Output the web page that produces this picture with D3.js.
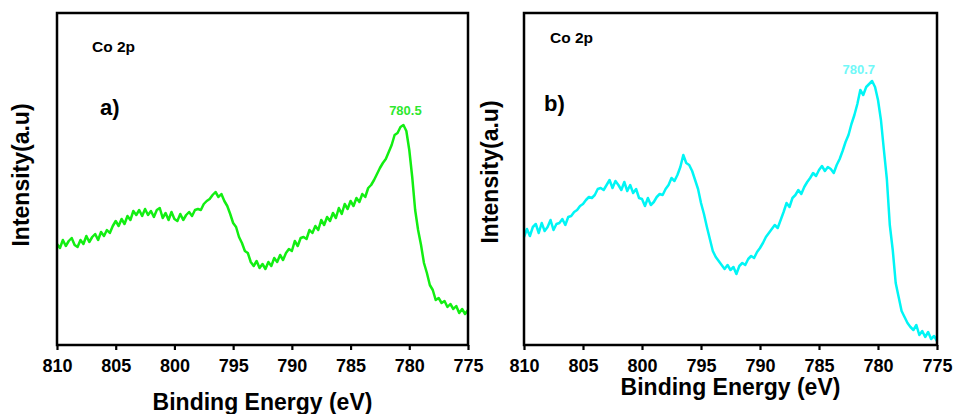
<!DOCTYPE html>
<html>
<head>
<meta charset="utf-8">
<script src="https://cdn.jsdelivr.net/npm/d3@7"></script>
<style>
  body { margin: 0; background: #fff; }
  svg { display: block; font-family: Arial, "Liberation Sans", sans-serif; font-weight: bold; }
</style>
</head>
<body>
<svg width="955" height="414"></svg>
<script>
// sampling grid of the spectra (eV), 810 -> 775
const energyStart = 810;
const energyStep = 0.25;
const tickValues = [810, 805, 800, 795, 790, 785, 780, 775];

// Co 2p intensities (a.u.), one value per grid step
const intensityA = [
  101, 97, 105, 99, 104, 107, 100, 98, 105, 101, 109, 103,
  108, 111, 105, 113, 109, 115, 112, 119, 124, 119, 126, 121,
  129, 125, 134, 130, 135, 129, 136, 130, 134, 128, 135, 137,
  127, 132, 125, 133, 126, 124, 131, 125, 130, 133, 129, 135,
  136, 135, 141, 144, 146, 150, 153, 148, 151, 144, 139, 131,
  122, 118, 108, 102, 94, 92, 83, 79, 84, 77, 81, 76,
  83, 79, 87, 83, 90, 85, 92, 96, 94, 104, 99, 107,
  108, 106, 115, 112, 119, 115, 125, 120, 128, 124, 132, 127,
  137, 131, 141, 136, 144, 139, 147, 143, 151, 148, 157, 160,
  165, 171, 177, 182, 186, 193, 200, 210, 212, 218, 220, 214,
  195, 168, 135, 115, 100, 82, 72, 60, 55, 45, 47, 42,
  44, 38, 41, 36, 39, 32, 36, 31, 35
];
const intensityB = [
  108, 116, 109, 118, 121, 112, 122, 114, 118, 125, 115, 121,
  122, 126, 120, 128, 129, 133, 135, 139, 141, 145, 148, 147,
  150, 156, 157, 155, 160, 165, 157, 164, 160, 155, 163, 154,
  160, 152, 156, 147, 146, 139, 147, 140, 143, 148, 151, 150,
  156, 160, 167, 164, 170, 178, 190, 182, 180, 174, 165, 156,
  142, 131, 118, 106, 94, 88, 84, 80, 76, 80, 75, 78,
  71, 79, 82, 80, 86, 89, 87, 93, 97, 102, 108, 112,
  116, 120, 117, 125, 133, 142, 138, 147, 150, 155, 151, 158,
  163, 167, 172, 169, 175, 179, 174, 178, 176, 172, 180, 186,
  194, 203, 210, 221, 230, 241, 255, 250, 258, 261, 264, 258,
  245, 225, 195, 166, 120, 95, 62, 48, 34, 28, 22, 18,
  15, 20, 10, 14, 8, 13, 6, 9, 4
];
const peakA = { energy: 780.5, value: 220, label: "780.5" };
const peakB = { energy: 780.7, value: 264, label: "780.7" };

const panels = [
  { values: intensityA, peak: peakA, letter: "a)", color: "#12ee12", labelColor: "#2ee82e",
    left: 57, right: 468, titleY: 410, yTitleX: 29, yTitleY: 175,
    coX: 92, coY: 52, letterX: 100, letterY: 115, peakDx: 2, peakDy: -10 },
  { values: intensityB, peak: peakB, letter: "b)", color: "#00f5f5", labelColor: "#70f8f8",
    left: 524, right: 937, titleY: 395, yTitleX: 498, yTitleY: 172,
    coX: 550, coY: 43, letterX: 544, letterY: 111, peakDx: -11, peakDy: -7 }
];

const frameTop = 13, frameBottom = 345;
const svg = d3.select("svg");

const drawPanel = (p) => {
  const g = svg.append("g");
  const x = d3.scaleLinear().domain([810, 775]).range([p.left, p.right]);
  const y = d3.scaleLinear().domain([0, frameBottom - frameTop]).range([frameBottom, frameTop]);

  const line = d3.line()
    .x((d, i) => x(energyStart - i * energyStep))
    .y((d) => y(d));

  g.append("path")
    .datum(p.values)
    .attr("fill", "none")
    .attr("stroke", p.color)
    .attr("stroke-width", 2.5)
    .attr("stroke-linejoin", "round")
    .attr("d", line);

  // frame
  g.append("rect")
    .attr("x", p.left).attr("y", frameTop)
    .attr("width", p.right - p.left).attr("height", frameBottom - frameTop)
    .attr("fill", "none").attr("stroke", "#000").attr("stroke-width", 2.5);

  const axis = g.append("g")
    .attr("transform", `translate(0,${frameBottom})`)
    .call(d3.axisBottom(x).tickValues(tickValues).tickSize(5).tickPadding(9));
  axis.select(".domain").remove();
  axis.selectAll(".tick line").attr("stroke", "#000").attr("stroke-width", 2.2);
  axis.selectAll(".tick text")
    .attr("fill", "#000")
    .attr("font-family", "Arial, 'Liberation Sans', sans-serif")
    .attr("font-weight", "bold")
    .attr("font-size", 18);

  g.append("text")
    .attr("x", (p.left + p.right) / 2).attr("y", p.titleY)
    .attr("text-anchor", "middle").attr("font-size", 23)
    .text("Binding Energy (eV)");

  g.append("text")
    .attr("transform", `translate(${p.yTitleX},${p.yTitleY}) rotate(-90)`)
    .attr("text-anchor", "middle").attr("font-size", 23)
    .text("Intensity(a.u)");

  g.append("text")
    .attr("x", p.coX).attr("y", p.coY)
    .attr("font-size", 15.5)
    .text("Co 2p");

  g.append("text")
    .attr("x", p.letterX).attr("y", p.letterY)
    .attr("font-size", 22)
    .text(p.letter);

  g.append("text")
    .attr("x", x(p.peak.energy) + p.peakDx)
    .attr("y", y(p.peak.value) + p.peakDy)
    .attr("text-anchor", "middle").attr("font-size", 13)
    .attr("fill", p.labelColor)
    .text(p.peak.label);
};

panels.forEach(drawPanel);
</script>
</body>
</html>
